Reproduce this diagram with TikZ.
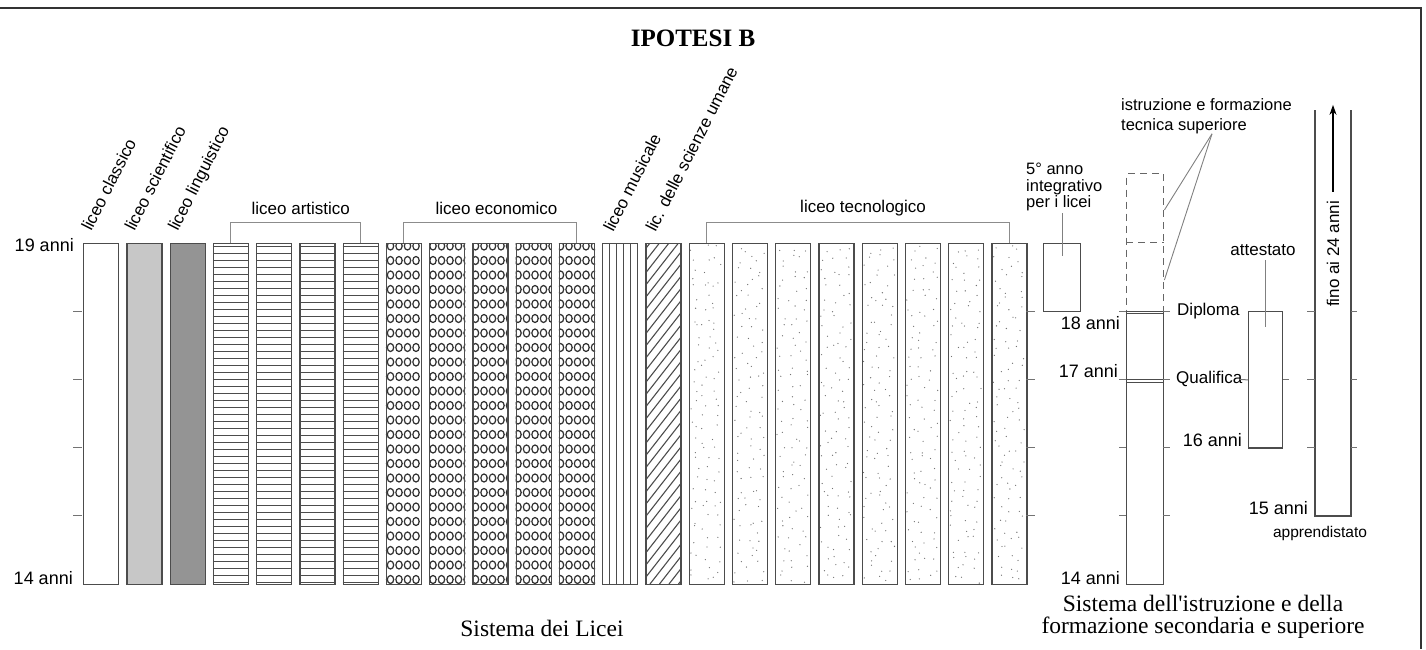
\documentclass[tikz,border=0pt]{standalone}
\usepackage{fontspec}
\setmainfont{Liberation Serif}
\setsansfont{Liberation Sans}
\usetikzlibrary{positioning,arrows.meta,calc,backgrounds}

% vertical position of an age on the scale (19 anni at the top)
\newcommand{\agey}[1]{243+(19-#1)*68.2}

\begin{document}
\begin{tikzpicture}[
  x=1pt, y=-1pt,
  bar/.style = {draw=black!70, line width=1.4pt, minimum width=35pt,
    minimum height=341pt, inner sep=0pt, anchor=north west},
  box/.style = {draw=black!70, line width=1.4pt, inner sep=0pt, anchor=north west},
  lbl/.style = {font=\sffamily\fontsize{17}{20}\selectfont, inner sep=0pt},
  small lbl/.style = {font=\sffamily\fontsize{16.5}{16.7}\selectfont, inner sep=0pt},
  age/.style = {font=\sffamily\fontsize{18}{20}\selectfont, inner sep=0pt, anchor=east},
  caption/.style = {font=\fontsize{23.5}{21.5}\selectfont, align=center, inner sep=0pt},
  brk/.style = {draw=black!45, line width=1pt},
  tick/.style = {draw=black!55, line width=1pt},
  leader/.style = {draw=black!50, line width=0.9pt},
  frame/.style = {draw=black!80, line width=2pt},
  stripe/.style = {draw=black!70, line width=1.5pt},
  ring/.style = {draw=black!80, line width=1.2pt},
  hatch/.style = {draw=black!70, line width=1.1pt},
  dot/.style = {fill=black!55},
  dash box/.style = {draw=black!60, line width=1.4pt, dash pattern=on 7pt off 5pt,
    inner sep=0pt},
  dbl/.style = {draw=black!70, line width=1pt},
  arr/.style = {-{Stealth[length=10pt,width=7pt]}, line width=1.3pt},
]

\useasboundingbox (0,0) rectangle (1426,649);
\draw[frame] (0,8) -- (1421,8) -- (1421,649);

\node[font=\bfseries\fontsize{25}{28}\selectfont] (title) at (693,38) {IPOTESI B};

% bars of the licei
\foreach \i in {1,...,22}
  \node[bar] (b\i) at ({83+(\i-1)*43.25},243) {};

\begin{scope}[on background layer]
  \fill[black!22] (b2.south west) rectangle (b2.north east);
  \fill[black!42] (b3.south west) rectangle (b3.north east);
  % artistico
  \foreach \i in {4,...,7} {
    \begin{scope}
      \clip (b\i.south west) rectangle (b\i.north east);
      \foreach \k in {0,...,49}
        \draw[stripe] ($(b\i.north west)+(0,3.5+\k*7)$) -- ++(35,0);
    \end{scope}
  }
  % economico
  \foreach \i in {8,...,12} {
    \pgfmathsetmacro\bx{83+(\i-1)*43.25}
    \pgfmathsetmacro\xs{390.5+8.5*floor((\bx-4-390.5)/8.5)}
    \begin{scope}
      \clip (b\i.south west) rectangle (b\i.north east);
      \foreach \r in {0,...,23}
        \foreach \c in {0,...,5}
          \draw[ring] ({\xs+\c*8.5},{246+\r*14.5}) ellipse [x radius=3.2, y radius=4];
    \end{scope}
  }
  % musicale
  \foreach \d in {7,14,21,28}
    \draw[hatch, line width=0.9pt] ($(b13.north west)+(\d,0)$) -- ++(0,341);
  % scienze umane
  \begin{scope}
    \clip (b14.south west) rectangle (b14.north east);
    \foreach \k in {0,...,40}
      \draw[hatch] ({365+\k*9.5},584) -- ++(266,-341);
  \end{scope}
  % tecnologico
  \pgfmathsetseed{4321}
  \foreach \i in {15,...,22}
    \foreach \r in {0,...,33}
      \foreach \c in {0,...,2}
        \fill[dot] ($(b\i.north west)+({2+\c*11+rnd*9},{1.5+\r*10+rnd*9})$) circle (0.65);
\end{scope}

% scale ticks
\foreach \a in {15,...,18} {
  \draw[tick] (73,{\agey{\a}}) -- (82,{\agey{\a}});
  \draw[tick] (1026,{\agey{\a}}) -- (1035,{\agey{\a}});
}
\node[age] (a19) at (74,245) {19 anni};
\node[age] (a14) at (73,578) {14 anni};

% names of the licei
\node[lbl, rotate=63, anchor=base west] (lab-cla) at ($(b1.north)+(-10,-11)$) {liceo classico};
\node[lbl, rotate=63, anchor=base west] (lab-sci) at ($(b2.north)+(-10,-11)$) {liceo scientifico};
\node[lbl, rotate=63, anchor=base west] (lab-lin) at ($(b3.north)+(-10,-11)$) {liceo linguistico};
\node[lbl, rotate=63, anchor=base west] (lab-mus) at ($(b13.north)+(-7,-10)$) {liceo musicale};
\node[lbl, rotate=63, anchor=base west] (lab-sum) at ($(b14.north)+(-8,-10)$) {lic. delle scienze umane};

% brackets
\draw[brk] (b4.north) -- ++(0,-21) -| (b7.north);
\draw[brk] (b8.north) -- ++(0,-21) -| (b12.north);
\draw[brk] (b15.north) -- ++(0,-21) -| (b22.north);
\node[lbl] (lab-art) at ($(b4.north)!0.5!(b7.north)+(5,-35)$) {liceo artistico};
\node[lbl] (lab-eco) at ($(b8.north)!0.5!(b12.north)+(6,-35)$) {liceo economico};
\node[lbl] (lab-tec) at ($(b15.north)!0.5!(b22.north)+(5,-35)$) {liceo tecnologico};

% 5th year
\node[box, minimum width=37pt, minimum height=68pt] (anno5) at (1043,243) {};
\node[small lbl, align=left, anchor=west] (lab-anno5) at (1026,187) {5° anno\\integrativo\\per i licei};
\draw[leader] ($(lab-anno5.south -| anno5.center)+(0,2)$) -- ++(0,43);

% istruzione e formazione
\node[dash box, minimum width=37pt, minimum height=138pt, anchor=north west] (its-box) at (1126,173) {};
\draw[dash box] (its-box.west) -- (its-box.east);
\node[box, minimum width=37pt, minimum height=273pt] (istr) at (1126,311) {};
\draw[dbl] ($(istr.north west)+(0,2.5)$) -- ++(37,0);
\draw[dbl] ($(istr.north west)+(0,68.4)$) -- ++(37,0);
\draw[dbl] ($(istr.north west)+(0,71.4)$) -- ++(37,0);
\foreach \a in {15,...,18} {
  \draw[tick] (1119,{\agey{\a}}) -- (1126,{\agey{\a}});
  \draw[tick] (1163,{\agey{\a}}) -- (1170,{\agey{\a}});
}
\node[small lbl, align=left, anchor=north west, font=\sffamily\fontsize{16.5}{20}\selectfont]
  (lab-its) at (1121,98) {istruzione e formazione\\tecnica superiore};
\coordinate (its-fork) at ($(lab-its.south west)+(91,0)$);
\draw[leader] (its-fork) -- ($(its-box.north east)+(0,37)$);
\draw[leader] (its-fork) -- ($(its-box.north east)+(0,107)$);

\node[lbl, anchor=west] (lab-dipl) at (1177,311) {Diploma};
\node[lbl, anchor=west] (lab-qual) at (1176,379) {Qualifica};
\node[age] (a18) at (1120,323) {18 anni};
\node[age] (a17) at (1118,371) {17 anni};
\node[age] (a14r) at (1120,578) {14 anni};

% attestato
\node[box, minimum width=34pt, minimum height=136.4pt] (att) at (1248,311) {};
\draw[tick] (1240,{\agey{17}}) -- (att.west);
\draw[tick] (att.east) -- ++(6,0);
\node[lbl] (lab-att) at (1263,250) {attestato};
\draw[leader] ($(lab-att.south -| att.north)+(0,4)$) -- ($(att.north)+(0,16)$);
\node[age] (a16) at (1242,440) {16 anni};

% apprendistato
\draw[draw=black!70, line width=1.4pt] (1315,110) -- (1315,516) -- (1351,516) -- (1351,110);
\foreach \a in {16,17,18} {
  \draw[tick] (1307,{\agey{\a}}) -- (1315,{\agey{\a}});
  \draw[tick] (1351,{\agey{\a}}) -- (1357,{\agey{\a}});
}
\node[lbl, rotate=90] (lab-fino) at (1333,254) {fino ai 24 anni};
\draw[arr] ($(lab-fino.east)+(0,-9)$) -- ++(0,-87);
\node[age] (a15) at (1308,508) {15 anni};
\node[font=\sffamily\fontsize{15.5}{18}\selectfont, inner sep=0pt] (lab-app) at (1320,533) {apprendistato};

% captions
\node[caption] (cap-licei) at (542,628) {Sistema dei Licei};
\node[caption] (cap-istr) at (1203,617) {Sistema dell\textquotesingle istruzione e della\\formazione secondaria e superiore};

\end{tikzpicture}
\end{document}
